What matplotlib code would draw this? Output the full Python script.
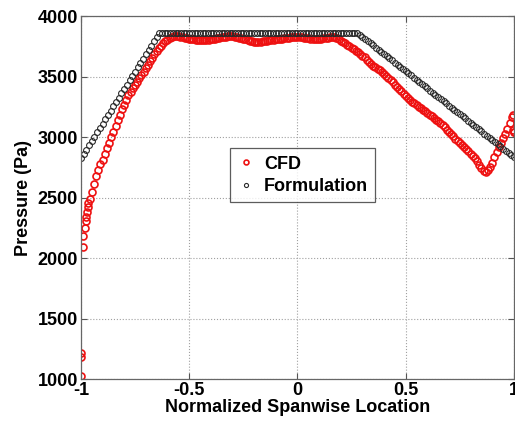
import numpy as np
import matplotlib.pyplot as plt

plt.rcParams['font.family'] = ['Liberation Sans', 'DejaVu Sans']
plt.rcParams['font.weight'] = 'bold'

# CFD pressure: clustered points at the tips plus stations every 0.01 span
cfd_left_x = [-1.0, -0.999, -0.998, -0.99, -0.988, -0.982, -0.977, -0.974, -0.971, -0.968, -0.965]
cfd_left_y = [1030, 1180, 1220, 2093, 2184, 2250, 2306, 2340, 2380, 2420, 2460]

cfd_mid_x = np.linspace(-0.96, 0.99, 196)
cfd_mid_y = [
    2490, 2550, 2615, 2675, 2730, 2780, 2815, 2860, 2910, 2955,
    3000, 3045, 3090, 3140, 3185, 3230, 3270, 3310, 3345, 3375,
    3405, 3435, 3460, 3485, 3510, 3540, 3570, 3600, 3628, 3658,
    3688, 3712, 3735, 3756, 3775, 3792, 3806, 3818, 3828, 3834,
    3838, 3836, 3832, 3826, 3821, 3817, 3814, 3811, 3808, 3806,
    3804, 3802, 3802, 3802, 3804, 3806, 3808, 3811, 3814, 3817,
    3820, 3824, 3828, 3832, 3835, 3836, 3834, 3830, 3826, 3822,
    3818, 3813, 3808, 3802, 3797, 3793, 3790, 3788, 3788, 3790,
    3793, 3796, 3799, 3802, 3804, 3806, 3808, 3810, 3812, 3814,
    3817, 3820, 3822, 3825, 3827, 3829, 3829, 3828, 3826, 3822,
    3819, 3816, 3815, 3814, 3814, 3814, 3815, 3815, 3816, 3819,
    3823, 3826, 3827, 3824, 3817, 3808, 3797, 3785, 3775, 3765,
    3752, 3740, 3727, 3715, 3703, 3690, 3675, 3660, 3640, 3620,
    3605, 3590, 3577, 3565, 3552, 3539, 3524, 3505, 3488, 3470,
    3452, 3434, 3416, 3398, 3379, 3360, 3342, 3324, 3308, 3294,
    3279, 3265, 3251, 3238, 3226, 3213, 3200, 3186, 3173, 3160,
    3146, 3132, 3115, 3098, 3080, 3062, 3043, 3024, 3006, 2988,
    2970, 2952, 2934, 2916, 2899, 2882, 2865, 2848, 2825, 2800,
    2770, 2743, 2722, 2714, 2725, 2750, 2790, 2838, 2880, 2915,
    2955, 2990, 3027, 3068, 3115, 3165,
]

cfd_right_x = [0.994, 0.997, 0.999, 1.0]
cfd_right_y = [3182, 3060, 3045, 3040]

cfd_x = np.concatenate([cfd_left_x, cfd_mid_x, cfd_right_x])
cfd_y = np.concatenate([cfd_left_y, cfd_mid_y, cfd_right_y])

# Formulation: stations every 0.0125 span
form_x = np.linspace(-1, 1, 161)
form_rise = [2825, 2861, 2897, 2933, 2968, 3004, 3040, 3076, 3112, 3148,
             3184, 3219, 3255, 3291, 3327, 3363, 3399, 3435, 3470, 3506,
             3542, 3578, 3614, 3650, 3686, 3721, 3757, 3793, 3829, 3865]
form_flat = [3865] * 72
form_fall = [3865, 3847, 3829, 3812, 3794, 3776, 3758, 3741, 3723, 3705,
             3687, 3670, 3652, 3634, 3616, 3599, 3581, 3563, 3545, 3527,
             3510, 3492, 3474, 3456, 3439, 3421, 3403, 3385, 3368, 3350,
             3332, 3314, 3297, 3279, 3261, 3243, 3226, 3208, 3190, 3172,
             3155, 3137, 3119, 3101, 3084, 3066, 3048, 3030, 3013, 2995,
             2977, 2959, 2942, 2924, 2906, 2888, 2871, 2853, 2835]
form_y = form_rise + form_flat + form_fall

fig = plt.figure(figsize=(5.15, 4.26), dpi=100)
ax = fig.add_axes([0.157, 0.110, 0.841, 0.852])

ax.plot(cfd_x, cfd_y, 'o', mfc='none', mec='#ee1111', ms=5.0, mew=1.2, label='CFD')
ax.plot(form_x, form_y, 'o', mfc='none', mec='#2a2a2a', ms=4.2, mew=0.8, label='Formulation')

ax.set_xlim(-1, 1)
ax.set_ylim(1000, 4000)
ax.set_xticks([-1, -0.5, 0, 0.5, 1])
ax.set_xticklabels(['-1', '-0.5', '0', '0.5', '1'])
ax.set_yticks([1000, 1500, 2000, 2500, 3000, 3500, 4000])

ax.grid(True, linestyle=':', color='#a0a0a0', linewidth=0.8)
ax.tick_params(direction='in', top=True, right=True, length=4, labelsize=13, pad=2, color='#555555')
for s in ax.spines.values():
    s.set_color('#666666')
    s.set_linewidth(0.9)

ax.set_xlabel('Normalized Spanwise Location', fontsize=13, fontweight='bold', labelpad=0)
ax.set_ylabel('Pressure (Pa)', fontsize=13, fontweight='bold', labelpad=4)

leg = ax.legend(loc='upper left', bbox_to_anchor=(0.344, 0.636), borderaxespad=0,
                fancybox=False, fontsize=13, numpoints=1, markerscale=0.7,
                handlelength=1.0, handletextpad=0.5, borderpad=0.4, labelspacing=0.3)
leg.get_frame().set_edgecolor('#333333')
leg.get_frame().set_linewidth(0.9)

fig.savefig('out.png', dpi=100)
